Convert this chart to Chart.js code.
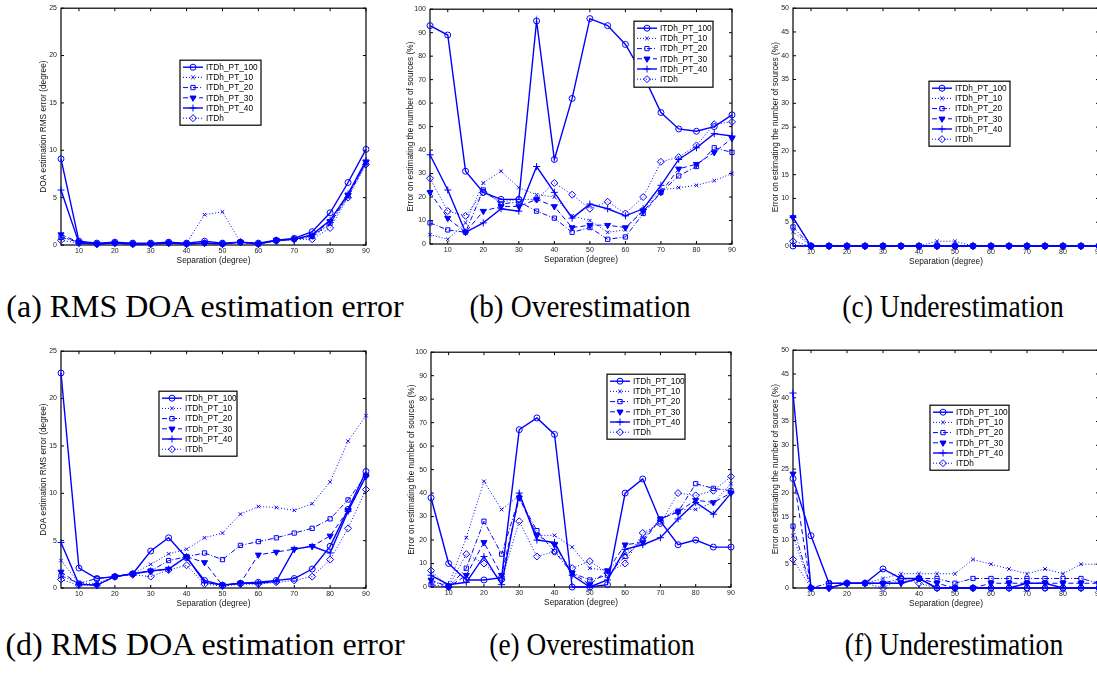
<!DOCTYPE html>
<html lang="en">
<head>
  <meta charset="UTF-8" />
  <title>ITDh source counting and DOA error</title>
  <script src="https://cdn.jsdelivr.net/npm/chart.js"></script>
  <style>
    html, body {
      margin: 0;
      padding: 0;
      background: #fff;
      overflow: hidden;
    }

    .page {
      position: relative;
      width: 1097px;
      height: 673px;
      overflow: hidden;
    }

    .panel {
      position: absolute;
    }

    .caption {
      position: absolute;
      width: 420px;
      text-align: center;
      font-family: "Liberation Serif", "Times New Roman", serif;
      font-size: 31px;
      line-height: 31px;
      color: #000;
      white-space: nowrap;
      transform-origin: center center;
    }
  </style>
</head>
<body>
  <div class="page" id="page">
    <div class="caption" style="left:-5px; top:291px; transform:scaleX(1.03);">(a) RMS DOA estimation error</div>
    <div class="caption" style="left:370px; top:291px; transform:scaleX(0.94);">(b) Overestimation</div>
    <div class="caption" style="left:743px; top:291px; transform:scaleX(0.89);">(c) Underestimation</div>
    <div class="caption" style="left:-5px; top:629px; transform:scaleX(1.03);">(d) RMS DOA estimation error</div>
    <div class="caption" style="left:382px; top:629px; transform:scaleX(0.88);">(e) Overestimation</div>
    <div class="caption" style="left:744px; top:629px; transform:scaleX(0.89);">(f) Underestimation</div>
  </div>

  <script>
    // x values (separation in degrees) and the ticks shown on the axis
    const separation = [5, 10, 15, 20, 25, 30, 35, 40, 45, 50, 55, 60, 65, 70, 75, 80, 85, 90];
    const xTicks = [10, 20, 30, 40, 50, 60, 70, 80, 90];
    const seriesNames = ['ITDh_PT_100', 'ITDh_PT_10', 'ITDh_PT_20', 'ITDh_PT_30', 'ITDh_PT_40', 'ITDh'];

    // (a) RMS DOA estimation error
    const a_pt100 = [9.1, 0.4, 0.2, 0.3, 0.2, 0.2, 0.3, 0.2, 0.4, 0.2, 0.3, 0.2, 0.5, 0.7, 1.4, 3.4, 6.6, 10.1];
    const a_pt10  = [0.9, 0.3, 0.1, 0.2, 0.1, 0.1, 0.2, 0.2, 3.2, 3.5, 0.3, 0.1, 0.4, 0.6, 0.8, 2.2, 5.1, 8.6];
    const a_pt20  = [0.8, 0.3, 0.1, 0.2, 0.1, 0.1, 0.2, 0.1, 0.2, 0.1, 0.3, 0.1, 0.5, 0.6, 0.9, 2.3, 5.2, 8.7];
    const a_pt30  = [1.1, 0.3, 0.1, 0.2, 0.1, 0.1, 0.2, 0.1, 0.2, 0.1, 0.3, 0.1, 0.5, 0.6, 1.0, 2.5, 5.3, 8.8];
    const a_pt40  = [5.8, 0.2, 0.1, 0.2, 0.1, 0.1, 0.2, 0.1, 0.2, 0.1, 0.3, 0.1, 0.5, 0.6, 1.1, 2.6, 5.4, 8.9];
    const a_itdh  = [0.5, 0.2, 0.1, 0.2, 0.1, 0.1, 0.2, 0.1, 0.2, 0.1, 0.3, 0.1, 0.4, 0.6, 0.6, 1.8, 5.0, 8.5];

    // (b) overestimation
    const b_pt100 = [93, 89, 31, 22, 19, 19, 95, 36, 62, 96, 93, 85, 72, 56, 49, 48, 50, 55];
    const b_pt10  = [4, 2, 9, 26, 31, 24, 21, 20, 12, 10, 5, 6, 15, 23, 24, 25, 27, 30];
    const b_pt20  = [9, 6, 5, 23, 17, 18, 14, 11, 5, 7, 2, 3, 13, 22, 29, 33, 41, 39];
    const b_pt30  = [22, 11, 5, 14, 16, 16, 19, 16, 7, 8, 8, 7, 14, 22, 32, 34, 39, 45];
    const b_pt40  = [38, 23, 5, 9, 15, 14, 33, 22, 11, 17, 15, 12, 15, 25, 36, 41, 47, 46];
    const b_itdh  = [28, 14, 12, 22, 18, 19, 19, 26, 21, 15, 18, 13, 20, 35, 37, 42, 51, 52];

    // (c) underestimation
    const c_pt100 = [0, 0, 0, 0, 0, 0, 0, 0, 0, 0, 0, 0, 0, 0, 0, 0, 0, 0];
    const c_pt10  = [3, 0, 0, 0, 0, 0, 0, 0, 1, 1, 0, 0, 0, 0, 0, 0, 0, 0];
    const c_pt20  = [4, 0, 0, 0, 0, 0, 0, 0, 0, 0, 0, 0, 0, 0, 0, 0, 0, 0];
    const c_pt30  = [6, 0, 0, 0, 0, 0, 0, 0, 0, 0, 0, 0, 0, 0, 0, 0, 0, 0];
    const c_pt40  = [6, 0, 0, 0, 0, 0, 0, 0, 0, 0, 0, 0, 0, 0, 0, 0, 0, 0];
    const c_itdh  = [1, 0, 0, 0, 0, 0, 0, 0, 0, 0, 0, 0, 0, 0, 0, 0, 0, 0];

    // (d) RMS DOA estimation error
    const d_pt100 = [22.7, 2.1, 1.0, 1.2, 1.5, 3.9, 5.3, 3.2, 0.8, 0.3, 0.5, 0.6, 0.8, 1.0, 2.0, 4.4, 8.3, 12.3];
    const d_pt10  = [2.9, 0.5, 0.5, 1.2, 1.5, 2.5, 3.6, 4.1, 5.3, 5.8, 7.8, 8.6, 8.5, 8.2, 8.9, 11.2, 15.5, 18.2];
    const d_pt20  = [1.3, 0.5, 1.0, 1.2, 1.5, 1.8, 2.9, 3.3, 3.7, 3.0, 4.5, 4.9, 5.3, 5.8, 6.3, 7.3, 9.3, 11.9];
    const d_pt30  = [1.7, 0.4, 0.3, 1.2, 1.5, 1.8, 2.0, 3.3, 2.7, 0.3, 0.5, 3.5, 3.8, 4.1, 4.4, 5.5, 8.2, 11.8];
    const d_pt40  = [4.8, 0.4, 0.3, 1.2, 1.5, 1.8, 2.0, 3.3, 0.6, 0.3, 0.5, 0.5, 0.7, 4.1, 4.4, 3.7, 8.1, 11.8];
    const d_itdh  = [0.9, 0.3, 0.3, 1.2, 1.4, 1.2, 1.9, 2.4, 0.4, 0.2, 0.4, 0.4, 0.6, 0.8, 1.2, 3.0, 6.3, 10.4];

    // (e) overestimation
    const e_pt100 = [38, 10, 3, 3, 4, 67, 72, 65, 0, 0, 1, 40, 46, 28, 18, 20, 17, 17];
    const e_pt10  = [2, 1, 21, 45, 33, 39, 22, 22, 17, 8, 7, 14, 21, 29, 33, 33, 36, 44];
    const e_pt20  = [1, 0, 8, 28, 14, 38, 24, 15, 6, 3, 5, 13, 20, 29, 32, 44, 42, 41];
    const e_pt30  = [3, 0, 5, 19, 5, 38, 22, 18, 6, 1, 7, 18, 19, 29, 32, 37, 36, 40];
    const e_pt40  = [5, 1, 2, 13, 1, 40, 20, 19, 5, 0, 3, 16, 18, 21, 29, 36, 31, 40];
    const e_itdh  = [7, 0, 14, 10, 3, 28, 13, 15, 8, 11, 6, 10, 23, 27, 40, 39, 41, 47];

    // (f) underestimation
    const f_pt100 = [23, 11, 1, 1, 1, 4, 2, 2, 0, 0, 0, 0, 0, 0, 0, 0, 0, 0];
    const f_pt10  = [11, 0, 0, 1, 1, 2, 3, 3, 3, 3, 6, 5, 4, 3, 4, 3, 5, 5];
    const f_pt20  = [13, 0, 1, 1, 1, 1, 2, 2, 2, 1, 2, 2, 2, 2, 2, 2, 2, 1];
    const f_pt30  = [24, 0, 0, 1, 1, 1, 1, 2, 1, 0, 0, 1, 1, 1, 1, 1, 1, 1];
    const f_pt40  = [41, 0, 0, 1, 1, 1, 1, 2, 0, 0, 0, 0, 0, 1, 1, 0, 0, 0];
    const f_itdh  = [6, 0, 0, 1, 1, 0, 2, 1, 0, 0, 0, 0, 0, 0, 0, 0, 0, 0];

    const blue = '#0000ff';
    const tickFont = { family: 'Liberation Sans, Arial, sans-serif', size: 7 };
    const titleFont = { family: 'Liberation Sans, Arial, sans-serif', size: 8.3 };
    const legendFont = '8.3px "Liberation Sans", Arial, sans-serif';

    // matlab-ish line specs, one per series
    const lineSpecs = [
      { dash: [], width: 1.4, point: 'circle', radius: 3, rotation: 0, fill: 'rgba(255,255,255,0)' },
      { dash: [1, 2], width: 1, point: 'crossRot', radius: 2.5, rotation: 0, fill: blue },
      { dash: [5, 2, 1, 2], width: 1, point: 'rect', radius: 3, rotation: 0, fill: 'rgba(255,255,255,0)' },
      { dash: [5, 3], width: 1, point: 'triangle', radius: 3.5, rotation: 180, fill: blue },
      { dash: [], width: 1.4, point: 'cross', radius: 3.5, rotation: 0, fill: blue },
      { dash: [1, 2], width: 1, point: 'rectRot', radius: 3.5, rotation: 0, fill: 'rgba(255,255,255,0)' }
    ];

    // box round the plot and inward tick marks
    const matlabAxes = {
      id: 'matlabAxes',
      beforeDatasetsDraw(chart) {
        const { ctx, chartArea: a, scales } = chart;
        ctx.save();
        ctx.strokeStyle = '#000';
        ctx.lineWidth = 1.2;
        ctx.strokeRect(a.left, a.top, a.right - a.left, a.bottom - a.top);
        ctx.beginPath();
        scales.x.ticks.forEach(t => {
          const px = scales.x.getPixelForValue(t.value);
          ctx.moveTo(px, a.bottom); ctx.lineTo(px, a.bottom - 3);
          ctx.moveTo(px, a.top); ctx.lineTo(px, a.top + 3);
        });
        scales.y.ticks.forEach(t => {
          const py = scales.y.getPixelForValue(t.value);
          ctx.moveTo(a.left, py); ctx.lineTo(a.left + 3, py);
          ctx.moveTo(a.right, py); ctx.lineTo(a.right - 3, py);
        });
        ctx.lineWidth = 1;
        ctx.stroke();
        ctx.restore();
      }
    };

    // legend box drawn inside the plot area
    const boxLegend = {
      id: 'boxLegend',
      afterDatasetsDraw(chart, args, opts) {
        const { ctx, chartArea } = chart;
        const x0 = chartArea.left + opts.x;
        const y0 = chartArea.top + opts.y;
        ctx.save();
        ctx.fillStyle = '#fff';
        ctx.fillRect(x0, y0, opts.w, opts.h);
        ctx.strokeStyle = '#000';
        ctx.lineWidth = 1.2;
        ctx.strokeRect(x0, y0, opts.w, opts.h);
        chart.data.datasets.forEach((ds, i) => {
          const y = y0 + 7 + i * 10.2;
          ctx.strokeStyle = ds.borderColor;
          ctx.lineWidth = ds.borderWidth;
          ctx.setLineDash(ds.borderDash);
          ctx.beginPath();
          ctx.moveTo(x0 + 3, y);
          ctx.lineTo(x0 + 23, y);
          ctx.stroke();
          ctx.setLineDash([]);
          ctx.fillStyle = ds.pointBackgroundColor;
          ctx.strokeStyle = ds.pointBorderColor;
          ctx.lineWidth = ds.pointBorderWidth;
          if (Chart.helpers && Chart.helpers.drawPoint) {
            Chart.helpers.drawPoint(ctx, {
              pointStyle: ds.pointStyle,
              radius: ds.pointRadius,
              rotation: ds.pointRotation,
              borderWidth: ds.pointBorderWidth
            }, x0 + 13, y);
          }
          ctx.fillStyle = '#000';
          ctx.font = legendFont;
          ctx.textBaseline = 'middle';
          ctx.fillText(ds.label, x0 + 26, y + 0.5);
        });
        ctx.restore();
      }
    };

    function buildDatasets(values) {
      return values.map((vals, i) => {
        const s = lineSpecs[i];
        return {
          label: seriesNames[i],
          data: separation.map((x, j) => ({ x: x, y: vals[j] })),
          borderColor: blue,
          borderWidth: s.width,
          borderDash: s.dash,
          pointStyle: s.point,
          pointRadius: s.radius,
          pointRotation: s.rotation,
          pointBackgroundColor: s.fill,
          pointBorderColor: blue,
          pointBorderWidth: 1,
          tension: 0,
          clip: false
        };
      });
    }

    // plot area in page pixels, y range, axis title, data, legend spot
    function makePanel(area, yMax, yStep, yTitle, values, legend, axisW) {
      const padTop = 6, padRight = 8, xAxisH = 21;
      const holder = document.createElement('div');
      holder.className = 'panel';
      const w = area.right - area.left + axisW + padRight;
      const h = area.bottom - area.top + padTop + xAxisH;
      holder.style.left = (area.left - axisW) + 'px';
      holder.style.top = (area.top - padTop) + 'px';
      holder.style.width = w + 'px';
      holder.style.height = h + 'px';
      const canvas = document.createElement('canvas');
      canvas.width = w;
      canvas.height = h;
      holder.appendChild(canvas);
      document.getElementById('page').appendChild(holder);

      return new Chart(canvas.getContext('2d'), {
        type: 'line',
        data: { datasets: buildDatasets(values) },
        options: {
          responsive: false,
          animation: false,
          events: [],
          layout: { padding: { top: padTop, right: padRight, left: 0, bottom: 0 } },
          plugins: {
            legend: { display: false },
            tooltip: { enabled: false },
            boxLegend: legend
          },
          scales: {
            x: {
              type: 'linear',
              min: 5,
              max: 90,
              afterBuildTicks: scale => { scale.ticks = xTicks.map(v => ({ value: v })); },
              afterFit: scale => { scale.height = xAxisH; },
              grid: { display: false, drawTicks: false },
              border: { display: false },
              ticks: { font: tickFont, color: '#222', padding: 2, maxRotation: 0, autoSkip: false },
              title: { display: true, text: 'Separation (degree)', font: titleFont, color: '#111', padding: 0 }
            },
            y: {
              type: 'linear',
              min: 0,
              max: yMax,
              afterFit: scale => { scale.width = axisW; },
              grid: { display: false, drawTicks: false },
              border: { display: false },
              ticks: { stepSize: yStep, font: tickFont, color: '#222', padding: 4 },
              title: { display: true, text: yTitle, font: titleFont, color: '#111', padding: 0 }
            }
          }
        },
        plugins: [matlabAxes, boxLegend]
      });
    }

    const rmsTitle = 'DOA estimation RMS error (degree)';
    const countTitle = 'Error on estimating the number of sources (%)';

    makePanel({ left: 61, top: 6, right: 366, bottom: 245 }, 25, 5, rmsTitle,
      [a_pt100, a_pt10, a_pt20, a_pt30, a_pt40, a_itdh], { x: 119, y: 52, w: 81, h: 65 }, 22);
    makePanel({ left: 430, top: 7, right: 732, bottom: 244 }, 100, 10, countTitle,
      [b_pt100, b_pt10, b_pt20, b_pt30, b_pt40, b_itdh], { x: 204, y: 12, w: 79, h: 66 }, 24);
    makePanel({ left: 793, top: 6, right: 1099, bottom: 246 }, 50, 5, countTitle,
      [c_pt100, c_pt10, c_pt20, c_pt30, c_pt40, c_itdh], { x: 136, y: 73, w: 81, h: 65 }, 22);
    makePanel({ left: 61, top: 349, right: 366, bottom: 588 }, 25, 5, rmsTitle,
      [d_pt100, d_pt10, d_pt20, d_pt30, d_pt40, d_itdh], { x: 98, y: 40, w: 78, h: 65 }, 22);
    makePanel({ left: 431, top: 350, right: 731, bottom: 587 }, 100, 10, countTitle,
      [e_pt100, e_pt10, e_pt20, e_pt30, e_pt40, e_itdh], { x: 176, y: 22, w: 78, h: 65 }, 24);
    makePanel({ left: 793, top: 348, right: 1099, bottom: 588 }, 50, 5, countTitle,
      [f_pt100, f_pt10, f_pt20, f_pt30, f_pt40, f_itdh], { x: 137, y: 55, w: 79, h: 65 }, 22);
  </script>
</body>
</html>
